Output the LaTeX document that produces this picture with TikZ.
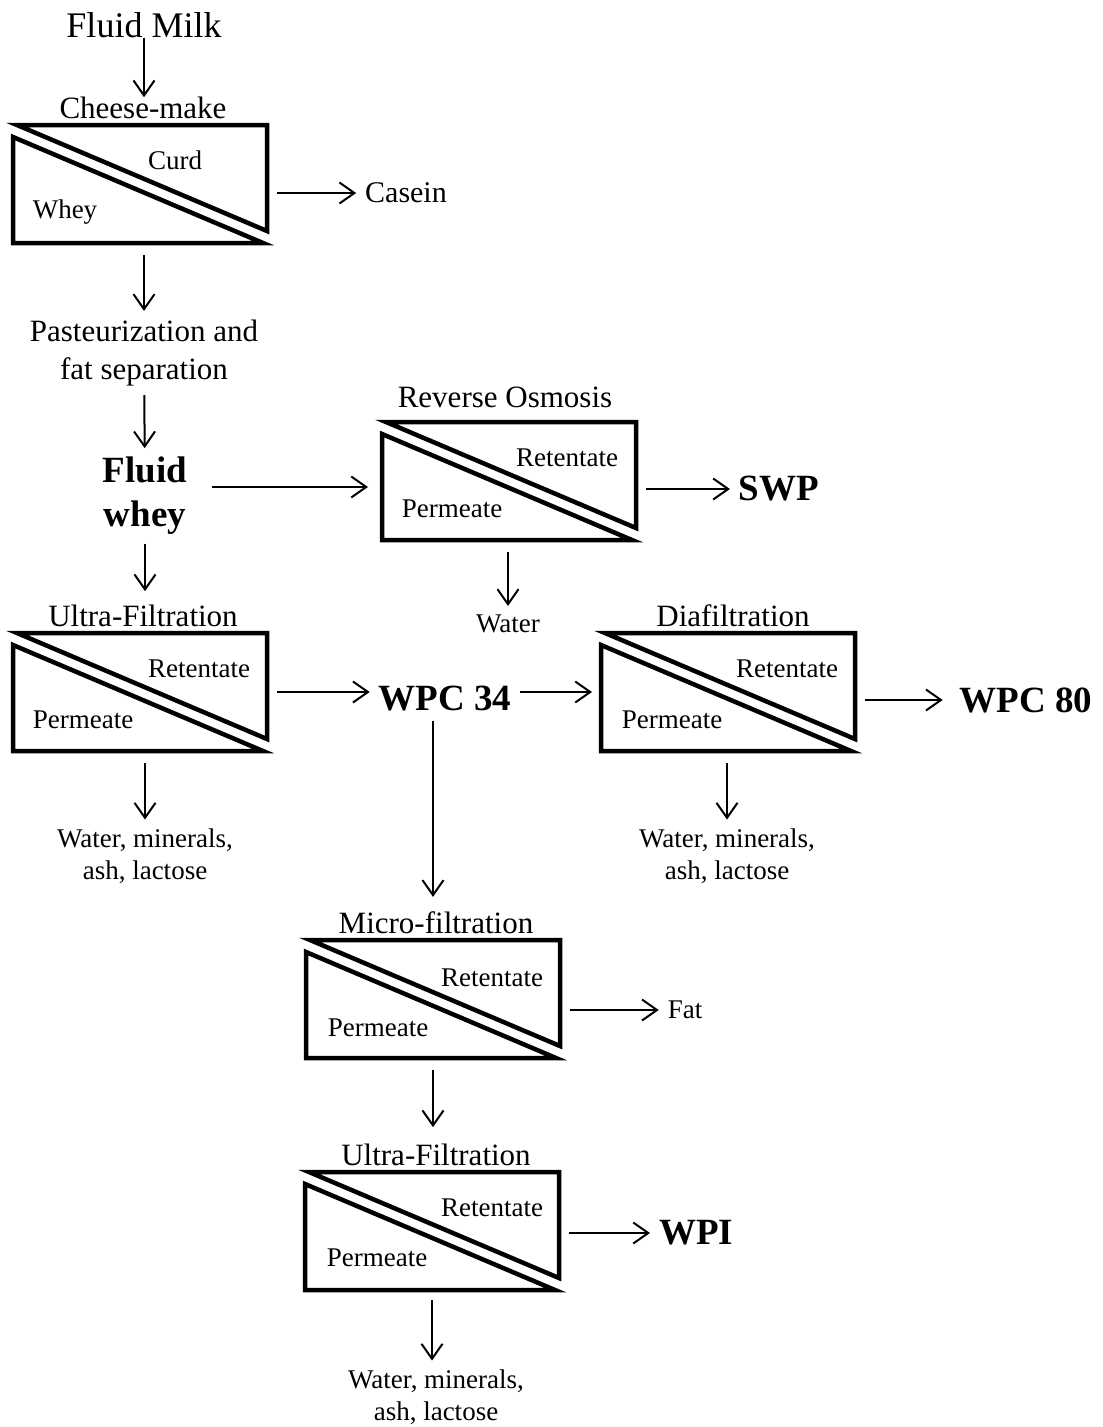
\documentclass[tikz,border=0pt]{standalone}
\usepackage{fontspec}
\setmainfont{Liberation Serif}
\usetikzlibrary{arrows.meta,positioning}
\newcommand{\fsText}{\fontsize{27}{32}\selectfont}
\newcommand{\fsStep}{\fontsize{31}{38}\selectfont}
\newcommand{\fsFeed}{\fontsize{36}{42}\selectfont}
\newcommand{\fsProd}{\fontsize{37}{44}\selectfont\bfseries}
\tikzset{
  membrane/.style={minimum width=254pt, minimum height=118pt, inner sep=0pt, outer sep=0pt},
  memline/.style={line width=4.5pt, line join=miter},
  steplabel/.style={inner sep=0pt, outer sep=0pt, align=center, font=\fsStep},
  txt/.style={inner sep=0pt, outer sep=9pt, align=center, font=\fsText},
  prod/.style={inner sep=0pt, outer sep=9pt, align=center, font=\fsProd},
  flow/.style={line width=2pt, -{Straight Barb[length=15pt,width=21pt]}}
}
% membrane symbol: two triangles split by the diagonal
\newcommand{\membox}[1]{%
  \draw[memline] ([xshift=4pt]#1.north west) -- (#1.north east) -- ([yshift=12pt]#1.south east) -- cycle;
  \draw[memline] ([yshift=-12pt]#1.north west) -- (#1.south west) -- ([xshift=-4pt]#1.south east) -- cycle;}

\begin{document}
\begin{tikzpicture}[x=1pt,y=-1pt]
    \useasboundingbox (0,0) rectangle (1103,1427);
    % cheese making
    \node[steplabel, font=\fsFeed] (milk) at (144,25) {Fluid Milk};
    \node[membrane] (cheese) at (140,184) {};
    \membox{cheese}
    \node[steplabel, above=6pt of cheese, xshift=3pt] (cheesettl) {Cheese-make};
    \draw[flow] (milk.south) -- (milk.south |- cheesettl.north);
    \node[txt] (curd) at (175,160) {Curd};
    \node[txt] (whey) at (65,212) {Whey};
    \node[txt, font=\fontsize{30}{36}\selectfont] (casein) at (406,193) {Casein};
    \draw[flow, shorten <=10pt] (cheese.east |- casein) -- (casein);
    \node[txt, font=\fsStep] (past) at (144,353) {Pasteurization and\\fat separation};
    \draw[flow, shorten <=12pt] (past.north |- cheese.south) -- (past);
    \node[prod] (fwhey) at (145,496) {Fluid\\whey};
    \draw[flow] (past) -- (fwhey);
    % reverse osmosis
    \node[membrane] (ro) at (509,481) {};
    \membox{ro}
    \node[steplabel, above=14pt of ro, xshift=-4pt] (rottl) {Reverse Osmosis};
    \node[txt] (rort) at (567,458) {Retentate};
    \node[txt] (ropm) at (452,509) {Permeate};
    \draw[flow, shorten <=16pt, shorten >=14pt] ([yshift=9pt]fwhey.east) -- ([yshift=9pt]fwhey.east -| ro.west);
    \node[prod] (swp) at (779,489) {SWP};
    \draw[flow, shorten <=10pt] (ro.east |- swp) -- (swp);
    \node[txt] (water) at (508,624) {Water};
    \draw[flow, shorten <=12pt] (water.north |- ro.south) -- (water);
    % ultra-filtration
    \node[membrane] (uf1) at (140,692) {};
    \membox{uf1}
    \node[steplabel, above=6pt of uf1, xshift=3pt] (uf1ttl) {Ultra-Filtration};
    \draw[flow, shorten >=14pt] (fwhey.south) -- (fwhey.south |- uf1ttl.north);
    \node[txt] (uf1rt) at (199,669) {Retentate};
    \node[txt] (uf1pm) at (83,720) {Permeate};
    \node[prod] (wpc34) at (445,699) {WPC 34};
    \draw[flow, shorten <=10pt] (uf1.east) -- (uf1.east -| wpc34.west);
    \node[txt] (waste1) at (145,856) {Water, minerals,\\ash, lactose};
    \draw[flow, shorten <=12pt] (waste1.north |- uf1.south) -- (waste1);
    % diafiltration
    \node[membrane] (df) at (728,692) {};
    \membox{df}
    \node[steplabel, above=6pt of df, xshift=5pt] (dfttl) {Diafiltration};
    \node[txt] (dfrt) at (787,669) {Retentate};
    \node[txt] (dfpm) at (672,720) {Permeate};
    \draw[flow, shorten >=9pt] (wpc34.east |- df) -- (df.west);
    \node[prod] (wpc80) at (1026,700) {WPC 80};
    \draw[flow, shorten <=10pt, shorten >=8pt] (df.east |- wpc80) -- (wpc80);
    \node[txt] (waste2) at (727,856) {Water, minerals,\\ash, lactose};
    \draw[flow, shorten <=12pt] (waste2.north |- df.south) -- (waste2);
    % micro-filtration
    \node[membrane] (mf) at (433,999) {};
    \membox{mf}
    \node[steplabel, above=6pt of mf, xshift=3pt] (mfttl) {Micro-filtration};
    \draw[flow, shorten >=15pt] (wpc34.south -| mf) -- (mfttl.north -| mf);
    \node[txt] (mfrt) at (492,978) {Retentate};
    \node[txt] (mfpm) at (378,1028) {Permeate};
    \node[txt] (fat) at (685,1010) {Fat};
    \draw[flow, shorten <=10pt] (mf.east |- fat) -- (fat);
    % second ultra-filtration
    \node[membrane] (uf2) at (432,1231) {};
    \membox{uf2}
    \node[steplabel, above=6pt of uf2, xshift=4pt] (uf2ttl) {Ultra-Filtration};
    \draw[flow, shorten <=12pt, shorten >=17pt] (mf.south) -- (uf2ttl.north -| mf);
    \node[txt] (uf2rt) at (492,1208) {Retentate};
    \node[txt] (uf2pm) at (377,1258) {Permeate};
    \node[prod] (wpi) at (696,1233) {WPI};
    \draw[flow, shorten <=10pt] (uf2.east |- wpi) -- (wpi);
    \node[txt] (waste3) at (436,1397) {Water, minerals,\\ash, lactose};
    \draw[flow, shorten <=10pt] (uf2.south) -- (uf2.south |- waste3.north);
\end{tikzpicture}
\end{document}
